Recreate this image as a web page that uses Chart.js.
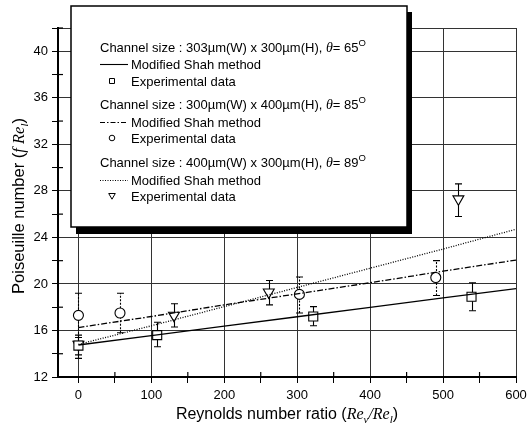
<!DOCTYPE html>
<html><head><meta charset="utf-8">
<script src="https://cdn.jsdelivr.net/npm/chart.js@4"></script>
<style>html,body{margin:0;padding:0;background:#fff;}#wrap{width:527px;height:428px;}</style>
</head><body><div id="wrap"><canvas id="c" width="527" height="428"></canvas></div>
<script>
// ---- data ----
const xTickLabels = [0,100,200,300,400,500,600];
const yTickLabels = [12,16,20,24,28,32,36,40];

// 303x300, theta=65 (squares)
const sqX  = [0, 108, 322, 539];
const sqY  = [14.7, 15.6, 17.2, 18.9];
const sqLo = [13.6, 14.6, 16.4, 17.7];
const sqHi = [15.4, 16.7, 18.05, 20.1];

// 300x400, theta=85 (circles)
const ciX  = [0, 57, 303, 490];
const ciY  = [17.3, 17.5, 19.1, 20.55];
const ciLo = [15.4, 15.8, 17.5, 19.0];
const ciHi = [19.2, 19.2, 20.6, 22.0];

// 400x300, theta=89 (triangles)
const trX  = [0, 131, 261, 521];
const trY  = [14.8, 17.3, 19.3, 27.3];
const trLo = [13.9, 16.3, 18.2, 25.8];
const trHi = [15.6, 18.3, 20.3, 28.6];

// Modified Shah method curves
const lineX   = [0, 100, 200, 300, 400, 500, 600];
const shah65  = [14.75, 15.55, 16.37, 17.18, 17.98, 18.8, 19.6];
const shah85  = [16.25, 17.2, 18.2, 19.15, 20.1, 21.1, 22.05];
const shah89  = [14.8, 16.4, 18.05, 19.7, 21.35, 23.0, 24.7];

const legendRows = [
  {kind:'title', text:'Channel size : 303\u00b5m(W) x 300\u00b5m(H), ', ang:'65'},
  {kind:'line', dash:[], text:'Modified Shah method'},
  {kind:'marker', marker:'rect', text:'Experimental data'},
  {kind:'title', text:'Channel size : 300\u00b5m(W) x 400\u00b5m(H), ', ang:'85'},
  {kind:'line', dash:[5,2,1.5,2], text:'Modified Shah method'},
  {kind:'marker', marker:'circle', text:'Experimental data'},
  {kind:'title', text:'Channel size : 400\u00b5m(W) x 300\u00b5m(H), ', ang:'89'},
  {kind:'line', dash:[1,1.5], text:'Modified Shah method'},
  {kind:'marker', marker:'tri', text:'Experimental data'}
];

// ---- helpers ----
const SANS = '"Liberation Sans", Arial, sans-serif';
const SERIF = '"Liberation Serif", "Times New Roman", serif';
const pts = (xs, ys) => xs.map((x, i) => ({x, y: ys[i]}));

function richWidth(ctx, parts){ let w=0; for(const p of parts){ctx.font=p.font; w+=ctx.measureText(p.t).width;} return w; }
function drawRich(ctx, parts, x0, y0, rot, center){
  ctx.save(); ctx.translate(x0, y0); ctx.rotate(rot||0);
  ctx.textBaseline='alphabetic'; ctx.textAlign='left'; ctx.fillStyle='#000';
  let x = center ? -richWidth(ctx, parts)/2 : 0;
  for(const p of parts){ ctx.font=p.font; ctx.fillText(p.t, x, p.dy||0); x+=ctx.measureText(p.t).width; }
  ctx.restore();
}

const errPlugin = {
  id:'err',
  beforeDatasetsDraw(chart){
    const {ctx, scales:{x, y}} = chart;
    const sets = [[sqX,sqLo,sqHi,[]],[ciX,ciLo,ciHi,[2,1.5]],[trX,trLo,trHi,[]]];
    ctx.save(); ctx.strokeStyle='#000'; ctx.lineWidth=1.1;
    for(const [xs,lo,hi,dash] of sets){
      xs.forEach((v,i)=>{
        const px=Math.round(x.getPixelForValue(v))+0.5, pl=y.getPixelForValue(lo[i]), ph=y.getPixelForValue(hi[i]);
        ctx.setLineDash(dash); ctx.beginPath(); ctx.moveTo(px,pl); ctx.lineTo(px,ph); ctx.stroke();
        ctx.setLineDash([]); ctx.beginPath();
        ctx.moveTo(px-3.5,pl); ctx.lineTo(px+3.5,pl); ctx.moveTo(px-3.5,ph); ctx.lineTo(px+3.5,ph); ctx.stroke();
      });
    }
    ctx.restore();
  }
};

const decoPlugin = {
  id:'deco',
  afterDraw(chart){
    const {ctx, chartArea:a, scales:{x, y}} = chart;
    ctx.save();
    // inner minor ticks
    ctx.strokeStyle='#000'; ctx.lineWidth=1.2;
    x.ticks.forEach(t=>{ if(t.value%100!==0){ const px=x.getPixelForValue(t.value); ctx.beginPath(); ctx.moveTo(px,a.bottom); ctx.lineTo(px,a.bottom-5); ctx.stroke(); }});
    y.ticks.forEach(t=>{ if(t.value%4!==0){ const py=y.getPixelForValue(t.value); ctx.beginPath(); ctx.moveTo(a.left,py); ctx.lineTo(a.left+5,py); ctx.stroke(); }});

    // axis titles
    drawRich(ctx, [
      {t:'Reynolds number ratio (', font:'16px '+SANS},
      {t:'Re', font:'italic 16px '+SERIF},
      {t:'v', font:'italic 11px '+SERIF, dy:4},
      {t:'/Re', font:'italic 16px '+SERIF},
      {t:'l', font:'italic 11px '+SERIF, dy:4},
      {t:')', font:'16px '+SANS}
    ], 287, 419, 0, true);
    drawRich(ctx, [
      {t:'Poiseuille number (', font:'16.5px '+SANS},
      {t:'f Re', font:'italic 16.5px '+SERIF},
      {t:'l', font:'italic 11px '+SERIF, dy:4},
      {t:')', font:'16.5px '+SANS}
    ], 24, 206, -Math.PI/2, true);

    // legend box
    const bx0=71, by0=6, bx1=407, by1=227;
    ctx.fillStyle='#000'; ctx.fillRect(bx0+5, by0+6, bx1-bx0, by1-by0+1);
    ctx.fillStyle='#fff'; ctx.fillRect(bx0, by0, bx1-bx0, by1-by0);
    ctx.strokeStyle='#000'; ctx.lineWidth=1.5; ctx.strokeRect(bx0, by0, bx1-bx0, by1-by0);

    const rowY = [47,64,81,104,122,138,162,180,196];
    legendRows.forEach((r,i)=>{
      const yy = rowY[i];
      const base = yy + 5;
      if(r.kind==='title'){
        drawRich(ctx, [
          {t:r.text, font:'13px '+SANS},
          {t:'\u03b8', font:'italic 14px '+SERIF},
          {t:'= '+r.ang, font:'13px '+SANS},
          {t:'O', font:'9.5px '+SANS, dy:-6.5}
        ], 100, base, 0, false);
      } else {
        if(r.kind==='line'){
          ctx.save(); ctx.strokeStyle='#000'; ctx.lineWidth=1.1; ctx.setLineDash(r.dash);
          ctx.beginPath(); ctx.moveTo(100,yy+0.5); ctx.lineTo(128,yy+0.5); ctx.stroke(); ctx.restore();
        } else {
          ctx.save(); ctx.strokeStyle='#000'; ctx.lineWidth=1; ctx.beginPath();
          const mx=112, my=yy;
          if(r.marker==='rect'){ ctx.rect(mx-2.5,my-2.5,5,5); }
          else if(r.marker==='circle'){ ctx.arc(mx,my,2.8,0,Math.PI*2); }
          else { ctx.moveTo(mx-3.3,my-2.5); ctx.lineTo(mx+3.3,my-2.5); ctx.lineTo(mx,my+3.2); ctx.closePath(); }
          ctx.stroke(); ctx.restore();
        }
        drawRich(ctx, [{t:r.text, font:'13px '+SANS}], 131, base, 0, false);
      }
    });
    ctx.restore();
  }
};

const lineDs = (ys, dash) => ({
  data: pts(lineX, ys), showLine:true, pointRadius:0, borderColor:'#000',
  borderWidth:1.3, borderDash:dash, fill:false, tension:0
});
const markDs = (xs, ys, style, r, rot) => ({
  data: pts(xs, ys), showLine:false, pointStyle:style, pointRadius:r,
  pointRotation:rot||0, pointBackgroundColor:'#fff', pointBorderColor:'#000', pointBorderWidth:1.1
});

new Chart(document.getElementById('c'), {
  type:'scatter',
  data:{ datasets:[
    lineDs(shah65, []),
    lineDs(shah85, [6,2,1.5,2]),
    lineDs(shah89, [1,1.5]),
    markDs(sqX, sqY, 'rect', 6.4),
    markDs(ciX, ciY, 'circle', 5),
    markDs(trX, trY, 'triangle', 6.3, 180)
  ]},
  plugins:[errPlugin, decoPlugin],
  options:{
    responsive:false, animation:false, devicePixelRatio:1,
    layout:{padding:{top:28, right:11, left:0, bottom:0}},
    plugins:{legend:{display:false}, tooltip:{enabled:false}},
    scales:{
      x:{
        type:'linear', min:-28, max:600,
        afterFit(s){ s.height = 51; s.paddingRight = 0; s.paddingLeft = 0; },
        ticks:{ stepSize:50, includeBounds:false, autoSkip:false, maxRotation:0, padding:5,
          color:'#000', font:{family:SANS, size:13},
          callback:(v)=> (v%100===0 && xTickLabels.includes(v)) ? String(v) : '' },
        grid:{ color:(c)=> (c.tick && c.tick.value%100===0) ? '#333' : 'rgba(0,0,0,0)',
          tickColor:'#000', tickLength:6, lineWidth:1 },
        border:{ color:'#000', width:2 }
      },
      y:{
        type:'linear', min:12, max:42,
        afterFit(s){ s.width = 58; s.paddingTop = 0; s.paddingBottom = 0; },
        ticks:{ stepSize:2, includeBounds:false, autoSkip:false, padding:4,
          color:'#000', font:{family:SANS, size:13},
          callback:(v)=> yTickLabels.includes(v) ? String(v) : '' },
        grid:{ color:(c)=> (c.tick && (c.tick.value%4===0 || c.tick.value===42)) ? '#333' : 'rgba(0,0,0,0)',
          tickColor:'#000', tickLength:6, lineWidth:1 },
        border:{ color:'#000', width:2 }
      }
    }
  }
});
</script>
</body></html>
